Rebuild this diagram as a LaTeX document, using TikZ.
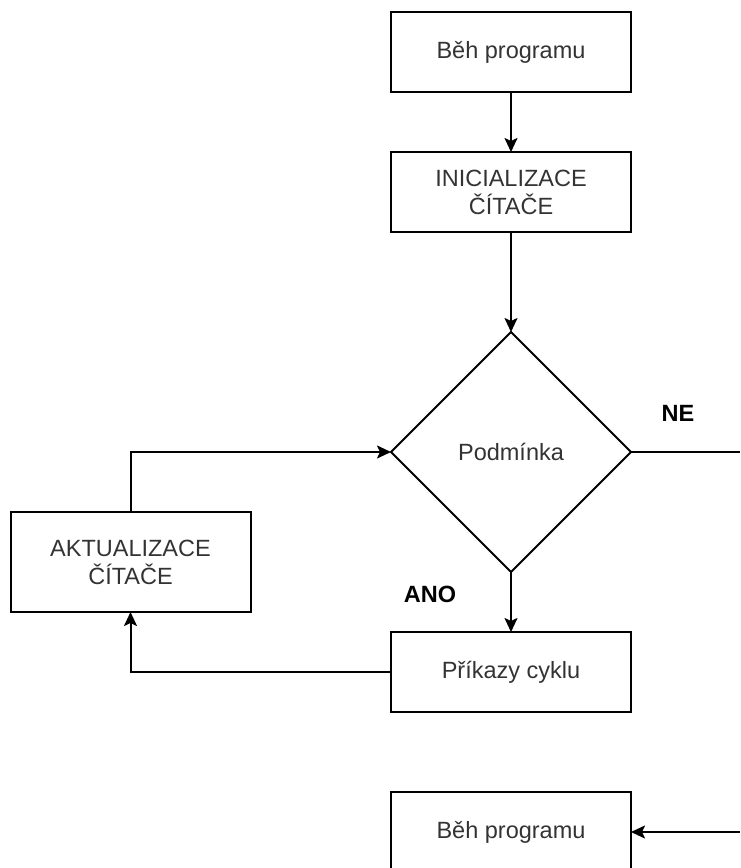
\documentclass[tikz,border=0pt]{standalone}
\usepackage{fontspec}
\setmainfont{Liberation Sans}
\usetikzlibrary{positioning, calc, shapes.geometric, arrows.meta}
\definecolor{txtgray}{HTML}{333333}
\tikzstyle{Box} = [draw, line width=2pt, minimum width=240pt, minimum height=80pt,
inner sep=0pt, outer sep=0pt, align=center, text=txtgray]
\tikzstyle{Cond} = [draw, diamond, line width=2pt, minimum width=240pt, minimum height=240pt,
inner sep=0pt, outer sep=0pt, aspect=1, text=txtgray]
\tikzstyle{Arrow} = [line width=2pt, -{Stealth[length=14pt, width=13pt, inset=3pt]}]
\tikzstyle{Line} = [line width=2pt]

\begin{document}
\begin{tikzpicture}[x=1pt, y=-1pt, node distance=60pt,
    font=\fontsize{23.5}{28}\selectfont]
    \useasboundingbox (0,0) rectangle (740,868);
    \node [Box] at (511,52) (start) {Běh programu};
    \node [Box, below =60pt of start] (init) {INICIALIZACE\\ČÍTAČE};
    \node [Cond, below =100pt of init] (cond) {Podmínka};
    \node [Box, below =60pt of cond] (body) {Příkazy cyklu};
    \node [Box, below =80pt of body] (end) {Běh programu};
    \node [Box, minimum height=100pt] at (130.5,562) (update) {AKTUALIZACE\\ČÍTAČE};
    \node [font=\fontsize{23.5}{28}\selectfont\bfseries] at (678,413) (ne) {NE};
    \node [font=\fontsize{23.5}{28}\selectfont\bfseries] at (430,594) (ano) {ANO};
    \coordinate (out) at (740,452);
    \coordinate (in) at (740,832);

    \draw[Arrow] (start)--(init);
    \draw[Arrow] (init)--(cond);
    \draw[Arrow] (cond)--(body);
    \draw[Arrow] (body.west) -| (update.south);
    \draw[Arrow] (update.north) |- (cond.west);
    \draw[Line] (cond.east)--(out);
    \draw[Arrow] (in)--(end.east);
\end{tikzpicture}
\end{document}
